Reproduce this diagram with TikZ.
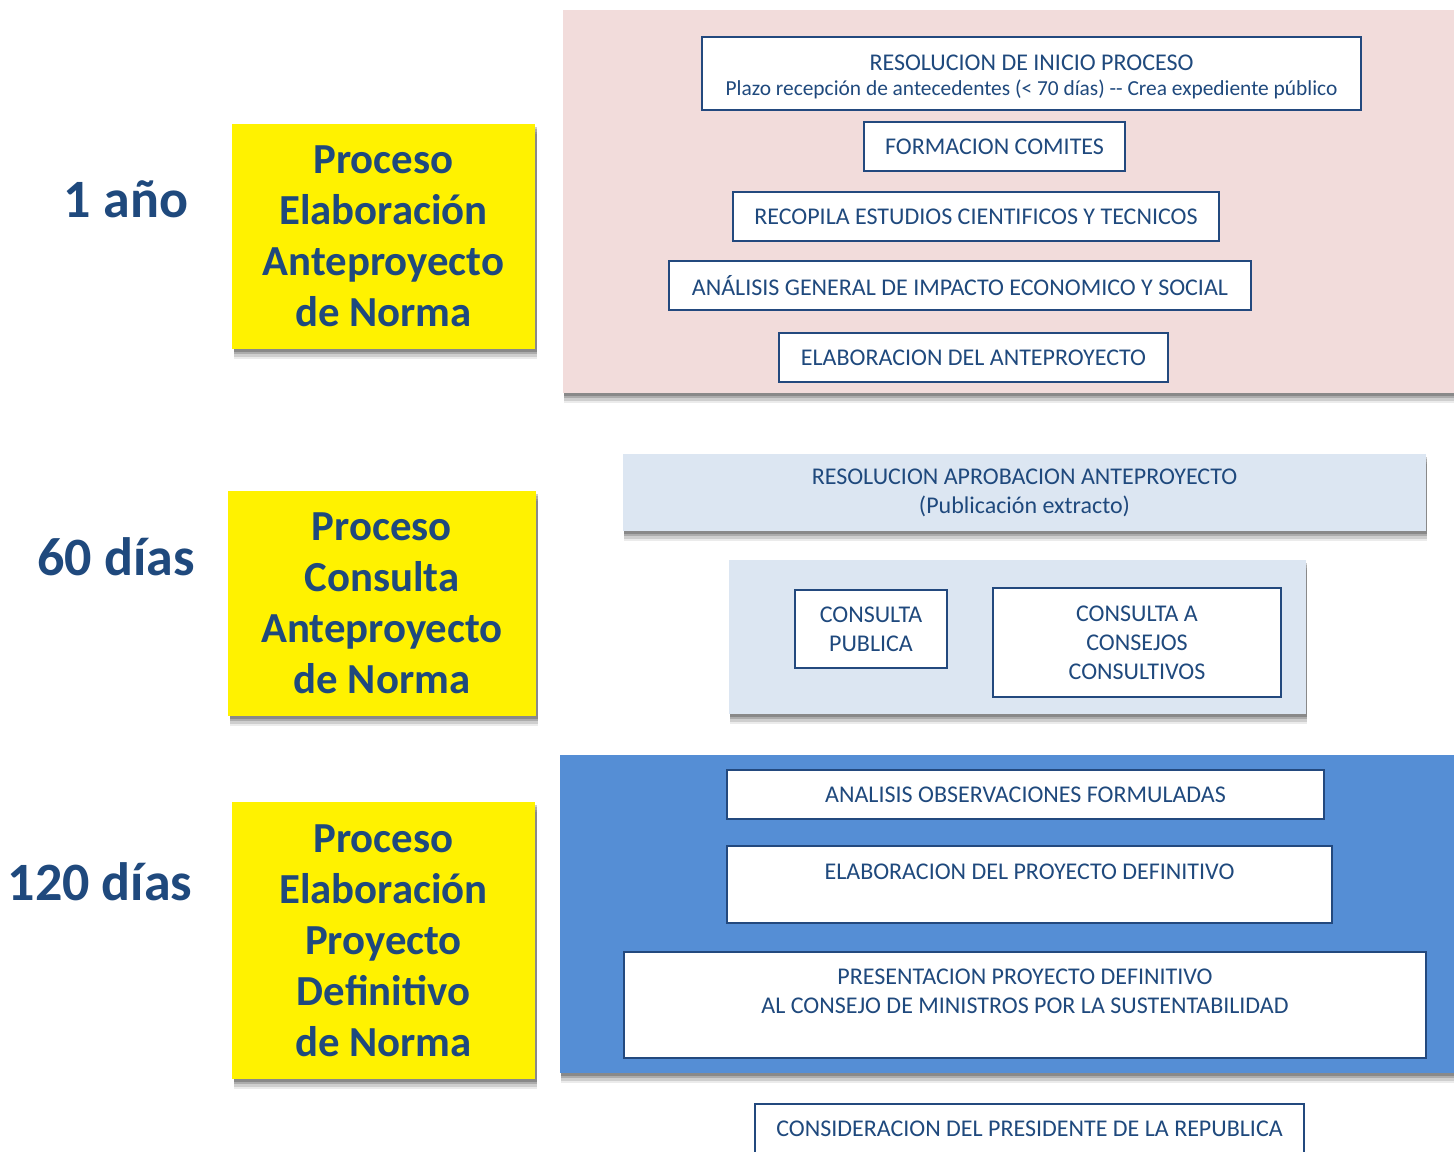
\documentclass[tikz,border=0pt]{standalone}
\usepackage{fontspec}
\setmainfont{Carlito}
\definecolor{txt}{HTML}{1F497D}
\definecolor{bordc}{HTML}{23497E}
\definecolor{pinkp}{HTML}{F2DCDB}
\definecolor{lbluep}{HTML}{DCE6F2}
\definecolor{bluep}{HTML}{558ED5}
\begin{document}
\begin{tikzpicture}[x=0.5pt,y=-0.5pt,
  myshadow/.style={
     preaction={fill=black, fill opacity=0.08, transform canvas={xshift=#1,yshift=-5pt}},
     preaction={fill=black, fill opacity=0.12, transform canvas={xshift=#1,yshift=-3.8pt}},
     preaction={fill=black, fill opacity=0.16, transform canvas={xshift=#1,yshift=-2.6pt}},
     preaction={fill=black, fill opacity=0.20, transform canvas={xshift=#1,yshift=-1.4pt}}},
  wbox/.style={draw=bordc, line width=1.3pt, fill=white, text=txt, font=\fontsize{12}{14.5}\selectfont, align=center, inner sep=0pt},
  ybox/.style={fill=yellow, text=txt, font=\bfseries\fontsize{21.4}{25.5}\selectfont, align=center, inner sep=0pt, myshadow=1pt},
  panel/.style={inner sep=0pt, text=txt, font=\fontsize{12}{14.5}\selectfont, align=center, myshadow=0.5pt},
  lab/.style={text=txt, font=\bfseries\fontsize{27}{30}\selectfont, inner sep=0pt}]
\useasboundingbox (0,0) rectangle (1454,1151);
\fill[white] (0,0) rectangle (1454,1151);

% panels
\node[panel, fill=pinkp, minimum width=453.5pt, minimum height=191.5pt] (p1) at (1016.5,201.5) {};
\node[panel, fill=lbluep, minimum width=401.5pt, minimum height=38.5pt] (lb1) at (1024.5,492.5)
  {RESOLUCION APROBACION ANTEPROYECTO\\(Publicación extracto)};
\node[panel, fill=lbluep, minimum width=288.5pt, minimum height=77pt] (p2) at (1017.5,637) {};
\node[panel, fill=bluep, minimum width=455pt, minimum height=159pt] (p3) at (1015,914) {};

% left labels
\node[lab] (t1) at (126,199) {1 año};
\node[lab] (t2) at (116,557) {60 días};
\node[lab] (t3) at (100,882) {120 días};

% yellow boxes
\node[ybox, minimum width=151.5pt, minimum height=112.5pt] (y1) at (383.5,236.5)
  {Proceso\\Elaboración\\Anteproyecto\\de Norma};
\node[ybox, minimum width=154pt, minimum height=112.5pt] (y2) at (382,603.5)
  {Proceso\\Consulta\\Anteproyecto\\de Norma};
\node[ybox, minimum width=151.5pt, minimum height=138.5pt] (y3) at (383.5,940.5)
  {Proceso\\Elaboración\\Proyecto\\Definitivo\\de Norma};

% pink panel boxes
\node[wbox, minimum width=329.5pt, minimum height=36.5pt] (b1) at (1031.5,73.5)
  {\strut\\[-13.5pt]RESOLUCION DE INICIO PROCESO\\[-1.9pt]{\fontsize{10.7}{12}\selectfont Plazo recepción de antecedentes (< 70 días) -{}- Crea expediente público}};
\node[wbox, minimum width=130.5pt, minimum height=24.5pt] (b2) at (994.5,146.5) {FORMACION COMITES};
\node[wbox, minimum width=243pt, minimum height=24.5pt] (b3) at (976,216.5) {RECOPILA ESTUDIOS CIENTIFICOS Y TECNICOS};
\node[wbox, minimum width=291pt, minimum height=24.5pt] (b4) at (960,285.5) {ANÁLISIS GENERAL DE IMPACTO ECONOMICO Y SOCIAL};
\node[wbox, minimum width=194.5pt, minimum height=24.5pt] (b5) at (973.5,357.5) {ELABORACION DEL ANTEPROYECTO};

% consulta boxes
\node[wbox, minimum width=76pt, minimum height=39pt] (cp) at (871,629) {CONSULTA\\PUBLICA};
\node[wbox, minimum width=144pt, minimum height=54.5pt] (cc) at (1137,642.5) {CONSULTA A\\CONSEJOS\\CONSULTIVOS};

% blue panel boxes
\node[wbox, minimum width=298.5pt, minimum height=24.5pt] (ao) at (1025.5,794.5) {ANALISIS OBSERVACIONES FORMULADAS};
\node[wbox, minimum width=302.5pt, minimum height=38.5pt] (epd) at (1029.5,884.5) {ELABORACION DEL PROYECTO DEFINITIVO\\[-6pt]\strut};
\node[wbox, minimum width=401pt, minimum height=53pt] (pres) at (1025,1005)
  {PRESENTACION PROYECTO DEFINITIVO\\AL CONSEJO DE MINISTROS POR LA SUSTENTABILIDAD\\[-5pt]\strut};

% final box
\node[wbox, minimum width=274.5pt, minimum height=24.5pt] (cons) at (1029.5,1128.5) {CONSIDERACION DEL PRESIDENTE DE LA REPUBLICA};
\end{tikzpicture}
\end{document}
